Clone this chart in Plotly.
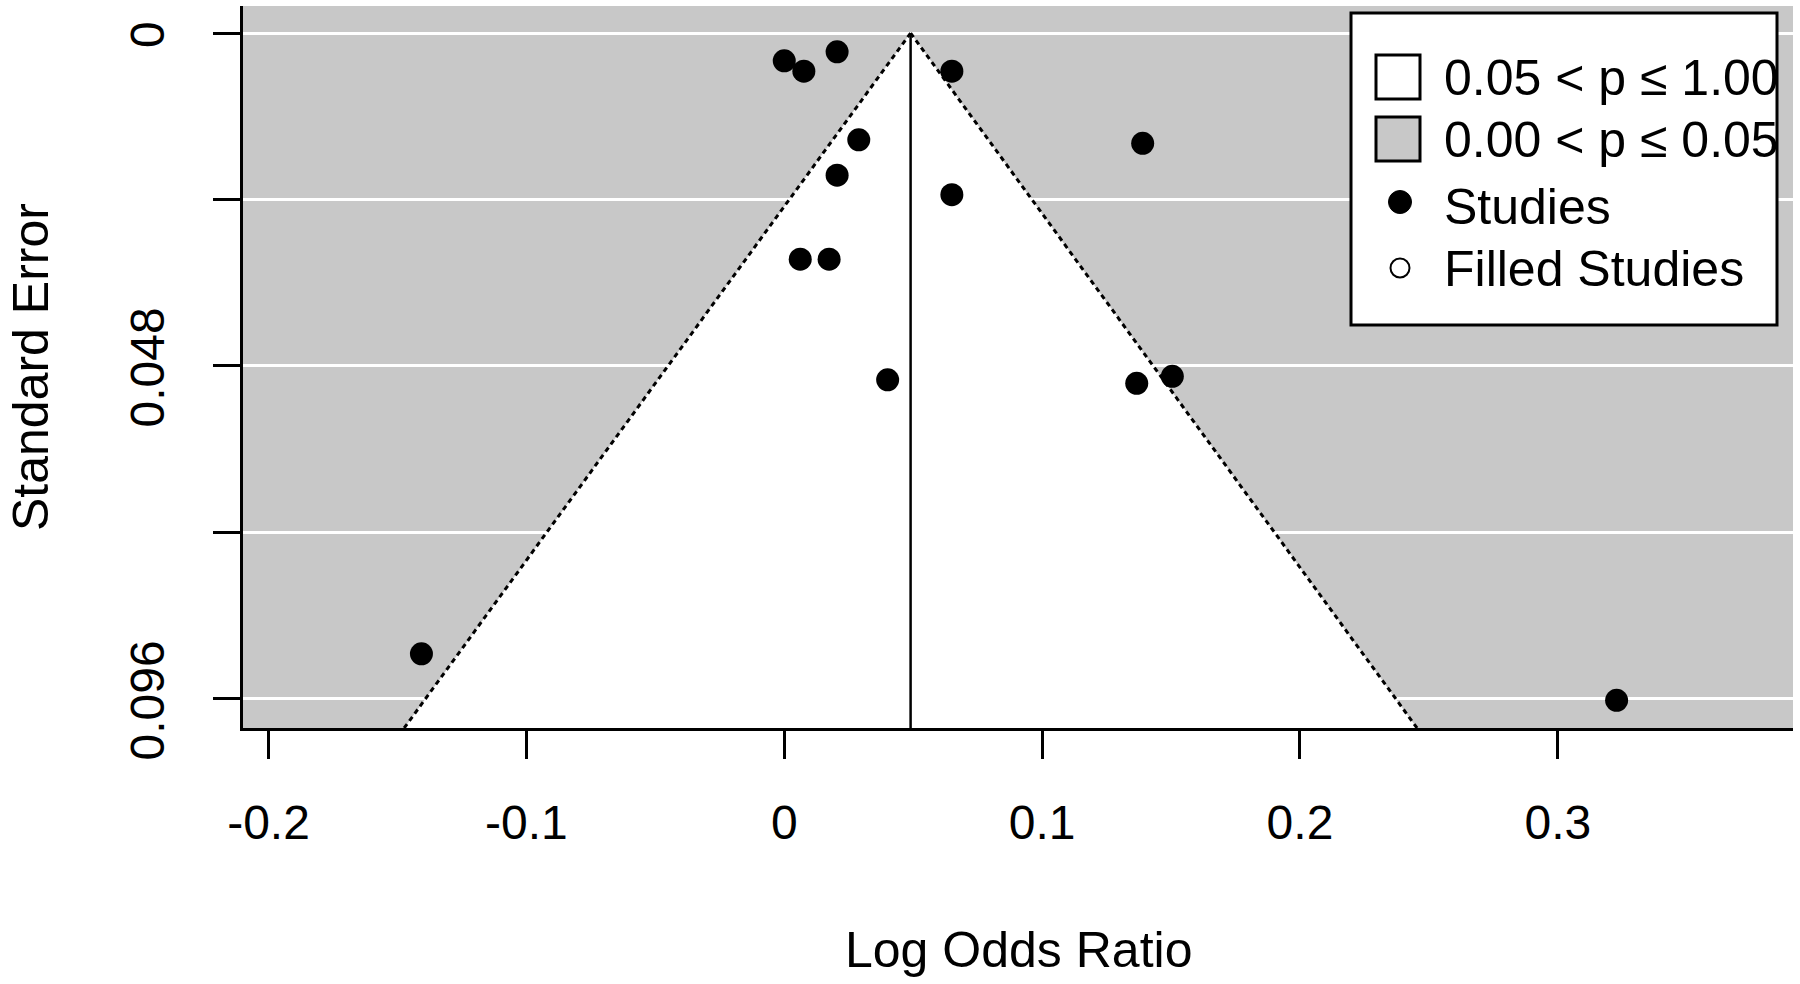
import plotly.graph_objects as go

# ---- data ----
log_odds_ratio = [0.000, 0.0076, 0.0205, 0.065, 0.0289, 0.139, 0.0205, 0.065,
                  0.0062, 0.0174, 0.0401, 0.1367, 0.1505, -0.1407, 0.3228]
standard_error = [0.0040, 0.0055, 0.0027, 0.0055, 0.0154, 0.0159, 0.0205, 0.0233,
                  0.0326, 0.0326, 0.0500, 0.0505, 0.0495, 0.0895, 0.0962]
pooled_estimate = 0.049
z_crit = 1.96
x_tick_vals = [-0.2, -0.1, 0.0, 0.1, 0.2, 0.3]
x_tick_text = ["-0.2", "-0.1", "0", "0.1", "0.2", "0.3"]
y_tick_vals = [0.0, 0.024, 0.048, 0.072, 0.096]
y_tick_text = ["0", "", "0.048", "", "0.096"]
legend_labels = ["0.05 < p \u2264 1.00", "0.00 < p \u2264 0.05", "Studies", "Filled Studies"]

X_RANGE = [-0.2099, 0.3912]
Y_RANGE = [0.1002, -0.0039]
se_max = Y_RANGE[0]

GRAY = "#c8c8c8"
FONT = "Liberation Sans, Arial, sans-serif"

W, H = 1800, 984
L, R, T, B = 243, 7, 6, 256
PW, PH = W - L - R, H - T - B


def px2x(px):
    return (px - L) / PW


def px2y(py):
    return (H - B - py) / PH


fig = go.Figure()

# white (non-significant) funnel region
left_x = pooled_estimate - z_crit * se_max
right_x = pooled_estimate + z_crit * se_max
fig.add_trace(go.Scatter(
    x=[pooled_estimate, left_x, right_x, pooled_estimate],
    y=[0, se_max, se_max, 0],
    fill="toself", fillcolor="white", mode="lines",
    line=dict(width=0), hoverinfo="skip", showlegend=False))

# dotted funnel edges
for edge in (left_x, right_x):
    fig.add_trace(go.Scatter(
        x=[pooled_estimate, edge], y=[0, se_max], mode="lines",
        line=dict(color="black", width=3, dash="5px,4px"),
        hoverinfo="skip", showlegend=False))

# vertical reference line at pooled estimate
fig.add_trace(go.Scatter(
    x=[pooled_estimate, pooled_estimate], y=[0, se_max], mode="lines",
    line=dict(color="black", width=2.5), hoverinfo="skip", showlegend=False))

# studies
fig.add_trace(go.Scatter(
    x=log_odds_ratio, y=standard_error, mode="markers",
    marker=dict(color="black", size=23, line=dict(width=0)),
    showlegend=False, cliponaxis=False))

shapes = []
annotations = []

# legend box
shapes.append(dict(type="rect", xref="paper", yref="paper",
                   x0=px2x(1351), x1=px2x(1777), y0=px2y(325), y1=px2y(13),
                   fillcolor="white", line=dict(color="black", width=3), layer="above"))
# legend squares
for cy, fillc in ((77, "white"), (139, GRAY)):
    shapes.append(dict(type="rect", xref="paper", yref="paper",
                       xsizemode="pixel", ysizemode="pixel",
                       xanchor=px2x(1398), yanchor=px2y(cy),
                       x0=-22, x1=22, y0=-22, y1=22,
                       fillcolor=fillc, line=dict(color="black", width=3), layer="above"))
# legend dots
shapes.append(dict(type="circle", xref="paper", yref="paper",
                   xsizemode="pixel", ysizemode="pixel",
                   xanchor=px2x(1400), yanchor=px2y(202),
                   x0=-11.5, x1=11.5, y0=-11.5, y1=11.5,
                   fillcolor="black", line=dict(color="black", width=1), layer="above"))
shapes.append(dict(type="circle", xref="paper", yref="paper",
                   xsizemode="pixel", ysizemode="pixel",
                   xanchor=px2x(1400), yanchor=px2y(268),
                   x0=-9.5, x1=9.5, y0=-9.5, y1=9.5,
                   fillcolor="white", line=dict(color="black", width=2), layer="above"))

for label, cy in zip(legend_labels, (78, 140, 207, 269)):
    annotations.append(dict(text=label, xref="paper", yref="paper",
                            x=px2x(1442), y=px2y(cy), xanchor="left", yanchor="middle",
                            showarrow=False, font=dict(family=FONT, size=50, color="black")))

# axis titles
annotations.append(dict(text="Log Odds Ratio", xref="paper", yref="paper",
                        x=0.5, y=px2y(950), xanchor="center", yanchor="middle",
                        showarrow=False, font=dict(family=FONT, size=50, color="black")))
annotations.append(dict(text="Standard Error", xref="paper", yref="paper",
                        x=px2x(31), y=0.5, xanchor="center", yanchor="middle", textangle=-90,
                        showarrow=False, font=dict(family=FONT, size=50, color="black")))

# trailing no-break space nudges the rotated labels to sit centred on their ticks
y_tick_labels = [t + "\u00a0\u200a" if t else t for t in y_tick_text]

fig.update_layout(
    width=W, height=H,
    margin=dict(l=L, r=R, t=T, b=B, autoexpand=False),
    paper_bgcolor="white", plot_bgcolor=GRAY,
    showlegend=False,
    shapes=shapes, annotations=annotations,
    xaxis=dict(range=X_RANGE, tickvals=x_tick_vals, ticktext=x_tick_text,
               showgrid=False, zeroline=False, showline=True, linecolor="black", linewidth=3,
               ticks="outside", ticklen=28, tickwidth=3, tickcolor="black",
               ticklabelstandoff=22,
               tickfont=dict(family=FONT, size=48, color="black")),
    yaxis=dict(range=Y_RANGE, tickvals=y_tick_vals, ticktext=y_tick_labels,
               showgrid=True, gridcolor="white", gridwidth=3,
               zeroline=False, showline=True, linecolor="black", linewidth=3,
               ticks="outside", ticklen=27, tickwidth=3, tickcolor="black",
               tickangle=-90, ticklabelstandoff=30,
               tickfont=dict(family=FONT, size=48, color="black")),
)

fig.write_html("out.html", config={"displayModeBar": False},
               post_script="document.body.style.margin='0';document.body.style.overflow='hidden';")
